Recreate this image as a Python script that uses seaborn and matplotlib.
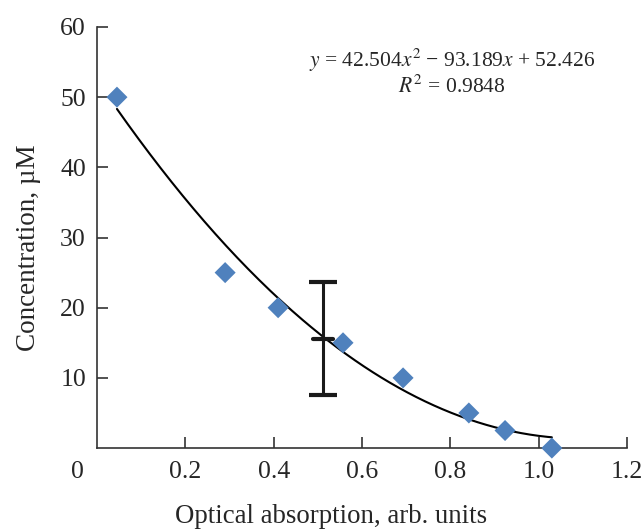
import numpy as np
import pandas as pd
import matplotlib
matplotlib.use('Agg')
import matplotlib.pyplot as plt
import seaborn as sns

# Data
absorption = [0.045, 0.29, 0.41, 0.557, 0.693, 0.842, 0.924, 1.03]
concentration = [50, 25, 20, 15, 10, 5, 2.5, 0]

# Trendline coefficients (as printed on the chart)
coef = [42.504, -93.189, 52.426]
r2 = 0.9848

# Error bar
err_x = 0.512
err_y = 15.6
err_size = 8.0

x_ticks = [0.2, 0.4, 0.6, 0.8, 1.0, 1.2]
x_ticklabels = ['0.2', '0.4', '0.6', '0.8', '1.0', '1.2']
y_ticks = [10, 20, 30, 40, 50, 60]

sns.set_style('white')
plt.rcParams['font.family'] = ['Liberation Serif', 'DejaVu Serif']
plt.rcParams['mathtext.fontset'] = 'stix'

df = pd.DataFrame({'x': absorption, 'y': concentration})
xs = np.linspace(min(absorption), max(absorption), 200)
fit = pd.DataFrame({'x': xs, 'y': np.polyval(coef, xs)})

fig = plt.figure(figsize=(6.43, 5.29), dpi=100)
ax = fig.add_axes([0.151, 0.153, 0.824, 0.796])

sns.lineplot(data=fit, x='x', y='y', ax=ax, color='black', linewidth=1.5, zorder=2)
sns.scatterplot(data=df, x='x', y='y', ax=ax, marker='D', s=115, color='#4F81BD',
                edgecolor='none', zorder=3, clip_on=False)
ax.errorbar([err_x], [err_y], yerr=[err_size], fmt='none', ecolor='#1a1a1a',
            elinewidth=2.2, capsize=10, capthick=3, zorder=4)
ax.plot([err_x - 0.023, err_x + 0.023], [err_y, err_y], color='#1a1a1a', lw=3, zorder=4)

ax.set_xlim(0, 1.2)
ax.set_ylim(0, 60)
ax.set_xticks(x_ticks)
ax.set_xticklabels(x_ticklabels)
ax.set_yticks(y_ticks)
ax.tick_params(axis='both', direction='in', length=8, width=1.2, color='#333333',
               labelsize=18.5, bottom=True, left=True)
ax.tick_params(axis='x', pad=9)
ax.tick_params(axis='y', pad=8)
for side in ['top', 'right']:
    ax.spines[side].set_visible(False)
for side in ['left', 'bottom']:
    ax.spines[side].set_color('#333333')
    ax.spines[side].set_linewidth(1.2)

ax.text(-0.03, -1.9, '0', transform=ax.transData, ha='right', va='top', fontsize=18.5)

ax.set_xlabel('Optical absorption, arb. units', fontsize=19.3)
ax.set_ylabel('Concentration, µM', fontsize=19.5)
ax.xaxis.set_label_coords(0.442, -0.133)
ax.yaxis.set_label_coords(-0.106, 0.475)

ax.text(0.804, 55.2, '$y$ = 42.504$x^2$ − 93.189$x$ + 52.426', ha='center', va='center',
        fontsize=15.5)
ax.text(0.804, 51.5, '$R^2$ = %.4f' % r2, ha='center', va='center', fontsize=15.5)

fig.savefig('out.png', dpi=100)
